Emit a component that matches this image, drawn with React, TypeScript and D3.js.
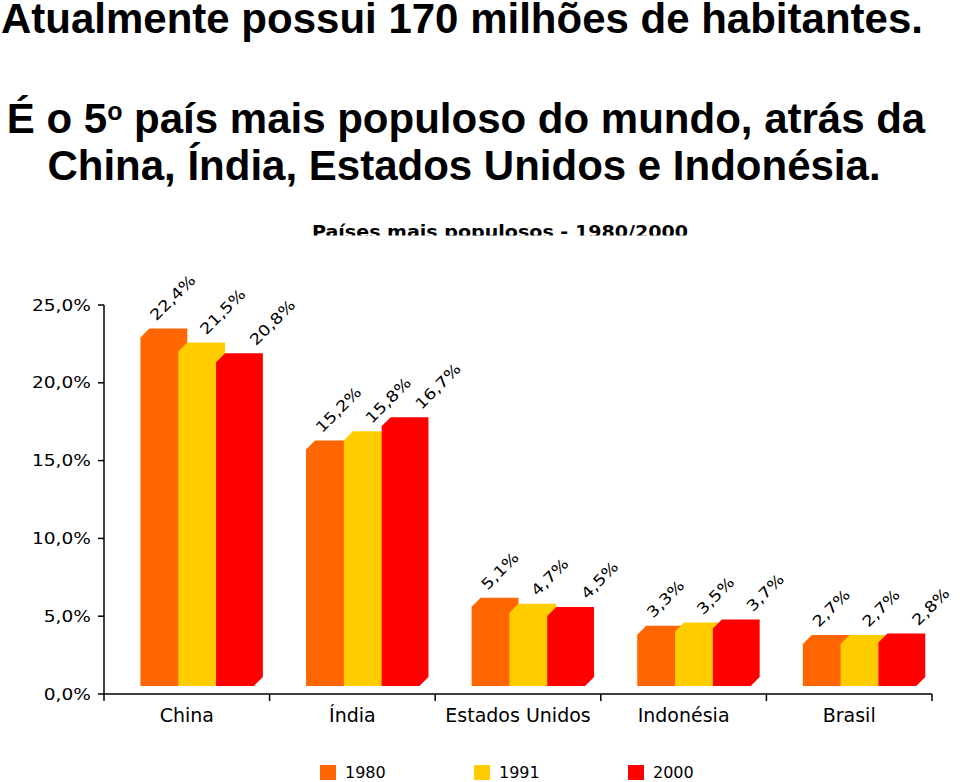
import React from "react";
import * as d3 from "d3";

const categories = ["China", "Índia", "Estados Unidos", "Indonésia", "Brasil"];
const series = ["1980", "1991", "2000"];
const values1980 = [22.4, 15.2, 5.1, 3.3, 2.7];
const values1991 = [21.5, 15.8, 4.7, 3.5, 2.7];
const values2000 = [20.8, 16.7, 4.5, 3.7, 2.8];
const seriesValues = [values1980, values1991, values2000];
const colors = ["#FF6600", "#FFCC00", "#FF0000"];
const yTicks = [0, 5, 10, 15, 20, 25];
const headline1 = "Atualmente possui 170 milhões de habitantes.";
const headline3 = "China, Índia, Estados Unidos e Indonésia.";
const chartTitle = "Países mais populosos - 1980/2000";

const fmt = (v: number) => v.toFixed(1).replace(".", ",") + "%";

export default function App() {
  const W = 960;
  const H = 782;
  const x0 = d3.scaleBand<string>().domain(categories).range([104, 932]).padding(0);
  const bw = x0.bandwidth();
  const x1 = d3
    .scaleBand<string>()
    .domain(series)
    .range([bw * 0.22, bw * 0.22 + bw * 0.685])
    .padding(0);
  const y = d3.scaleLinear().domain([0, 25]).range([694, 305]);
  const depth = 9;
  const lift = 8;
  const base = y(0) - lift;
  const font = "'DejaVu Sans', Verdana, sans-serif";
  const headFont = "'Liberation Sans', Arial, Helvetica, sans-serif";

  const barPath = (xl: number, w: number, top: number) => {
    const p = d3.path();
    p.moveTo(xl, base);
    p.lineTo(xl, top);
    p.lineTo(xl + depth, top - depth);
    p.lineTo(xl + w + depth, top - depth);
    p.lineTo(xl + w + depth, base - depth);
    p.lineTo(xl + w, base);
    p.closePath();
    return p.toString();
  };

  return (
    <svg
      width={W}
      height={H}
      viewBox={`0 0 ${W} ${H}`}
      style={{ position: "absolute", left: 0, top: 0, background: "#fff" }}
    >
      <rect x={0} y={0} width={W} height={H} fill="#fff" />
      {/* headline */}
      <g fontFamily={headFont} fontWeight="bold" fontSize={42} fill="#000">
        <text x={1} y={33}>{headline1}</text>
        <text x={466} y={133} textAnchor="middle">
          <tspan>É o 5</tspan>
          <tspan fontSize={25} dy={-13}>o</tspan>
          <tspan dy={13}> país mais populoso do mundo, atrás da</tspan>
        </text>
        <text x={464} y={180} textAnchor="middle">{headline3}</text>
      </g>

      {/* chart title, clipped at the bottom */}
      <defs>
        <clipPath id="titleClip">
          <rect x={290} y={200} width={420} height={35.5} />
        </clipPath>
      </defs>
      <text
        x={312}
        y={238}
        fontFamily={font}
        fontWeight="bold"
        fontSize={18}
        textLength={376}
        lengthAdjust="spacingAndGlyphs"
        clipPath="url(#titleClip)"
        fill="#000"
      >
        {chartTitle}
      </text>

      {/* bars */}
      {series.map((s, si) => (
        <g key={s}>
          {categories.map((c, ci) => {
            const xl = (x0(c) as number) + (x1(s) as number);
            const w = x1.bandwidth();
            const top = y(seriesValues[si][ci]) - lift;
            return <path key={c} d={barPath(xl, w, top)} fill={colors[si]} />;
          })}
        </g>
      ))}

      {/* value labels */}
      <g fontFamily={font} fontSize={15} fill="#000">
        {series.map((s, si) =>
          categories.map((c, ci) => {
            const xl = (x0(c) as number) + (x1(s) as number);
            const top = y(seriesValues[si][ci]) - lift - depth;
            const lx = xl + x1.bandwidth() * 0.42 + si * 12;
            const ly = top - 7;
            return (
              <text
                key={s + c}
                transform={`translate(${lx},${ly}) rotate(-45) scale(1.2,1)`}
              >
                {fmt(seriesValues[si][ci])}
              </text>
            );
          })
        )}
      </g>

      {/* axes */}
      <g stroke="#000" strokeWidth={1.5} fill="none">
        <line x1={104} y1={y(25)} x2={104} y2={701} />
        <line x1={104} y1={694} x2={932} y2={694} />
        {yTicks.map((t) => (
          <line key={t} x1={98} y1={y(t)} x2={104} y2={y(t)} />
        ))}
        {categories.map((c) => {
          const xe = (x0(c) as number) + bw;
          return <line key={c} x1={xe} y1={694} x2={xe} y2={701} />;
        })}
      </g>
      <g fontFamily={font} fontSize={15} fill="#000">
        {yTicks.map((t) => (
          <text
            key={t}
            textAnchor="end"
            transform={`translate(91,${y(t) + 5.5}) scale(1.24,1)`}
          >
            {fmt(t)}
          </text>
        ))}
      </g>
      <g fontFamily={font} fontSize={19} fill="#000">
        {categories.map((c) => (
          <text key={c} x={(x0(c) as number) + bw / 2} y={722} textAnchor="middle">
            {c}
          </text>
        ))}
      </g>

      {/* legend */}
      <g fontFamily={font} fontSize={16} fill="#000">
        {series.map((s, si) => (
          <g key={s} transform={`translate(${320 + si * 154},765)`}>
            <rect x={0} y={0} width={16} height={15} fill={colors[si]} />
            <text x={25} y={13}>{s}</text>
          </g>
        ))}
      </g>
    </svg>
  );
}
